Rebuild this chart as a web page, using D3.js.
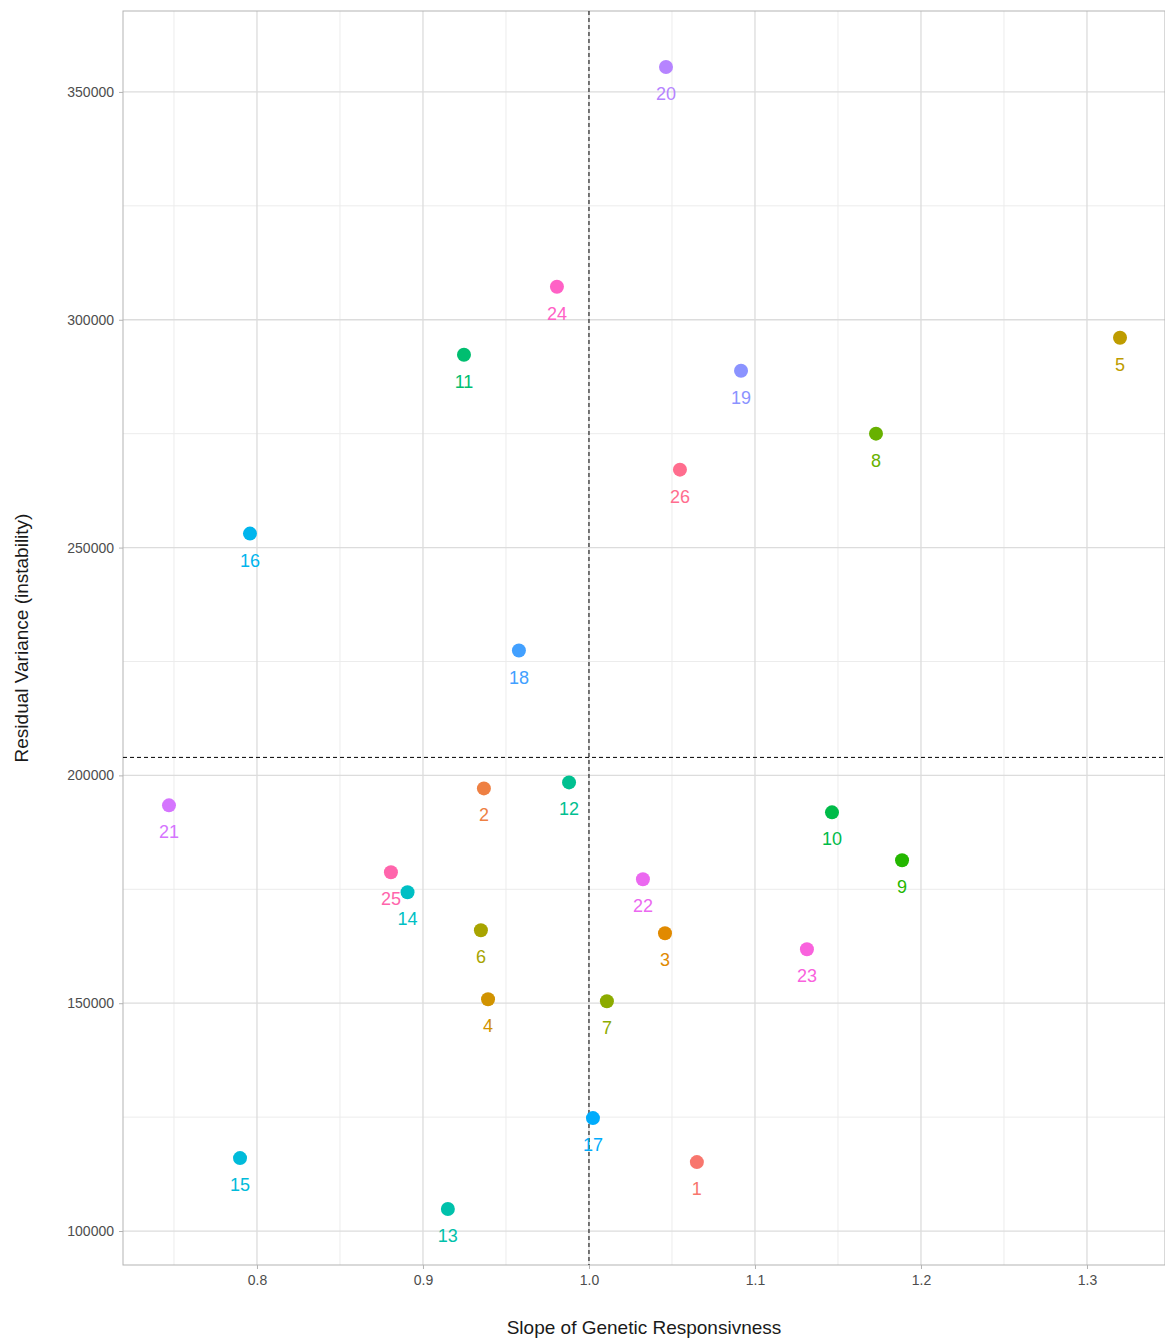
<!DOCTYPE html>
<html><head><meta charset="utf-8">
<script src="https://cdn.jsdelivr.net/npm/d3@7"></script>
<style>body{margin:0;background:#fff;font-family:Arial,"Liberation Sans",sans-serif}</style>
</head><body>
<svg id="chart" width="1165" height="1340"></svg>
<script>
// slope / residual variance per line
const ids = d3.range(1, 27);
const slope = [1.065,0.9367,1.0458,0.9392,1.3199,0.9349,1.0108,1.1729,1.1886,1.1464,0.9247,0.988,0.915,0.8907,0.7898,0.7958,1.0024,0.9578,1.0916,1.0464,0.747,1.0325,1.1313,0.9807,0.8807,1.0548];
const resid = [115130,197150,165350,150880,296050,166010,150440,275000,181360,191890,292330,198460,104820,174340,116010,253070,124780,227410,288820,355480,193420,177190,161840,307240,178730,267100];
const xTicks = [0.8, 0.9, 1.0, 1.1, 1.2, 1.3];
const yTicks = [100000, 150000, 200000, 250000, 300000, 350000];
const vRef = 1.0, hRef = 203950;

const svg = d3.select("#chart");
const L = 123, R = 1165, T = 11, B = 1265;
const x = d3.scaleLinear().domain([0.7193, 1.347]).range([L, R]);
const y = d3.scaleLinear().domain([92544, 367763]).range([B, T]);

// ggplot hue palette (polar CIE Luv)
function polarLuv(h, c, l) {
  const Xn = 95.047, Yn = 100, Zn = 108.883;
  const un = 4 * Xn / (Xn + 15 * Yn + 3 * Zn), vn = 9 * Yn / (Xn + 15 * Yn + 3 * Zn);
  const hr = h * Math.PI / 180, u = c * Math.cos(hr), v = c * Math.sin(hr);
  const Y = l > 8 ? Yn * Math.pow((l + 16) / 116, 3) : Yn * l / 903.3;
  const up = u / (13 * l) + un, vp = v / (13 * l) + vn;
  const X = Y * 9 * up / (4 * vp), Z = Y * (12 - 3 * up - 20 * vp) / (4 * vp);
  const lin = [3.240479 * X - 1.53715 * Y - 0.498535 * Z,
              -0.969256 * X + 1.875992 * Y + 0.041556 * Z,
               0.055648 * X - 0.204043 * Y + 1.057311 * Z].map(t => t / 100);
  const g = t => { t = Math.max(0, Math.min(1, t)); return 255 * (t <= 0.0031308 ? 12.92 * t : 1.055 * Math.pow(t, 1 / 2.4) - 0.055); };
  return d3.rgb(g(lin[0]), g(lin[1]), g(lin[2])).formatHex();
}
const colour = i => polarLuv(15 + i * 360 / 26, 100, 65);

const minorX = d3.range(0.75, 1.35, 0.1), minorY = d3.range(75000, 375000, 50000);
svg.append("g").selectAll("line").data(minorX).join("line")
  .attr("x1", d => x(d)).attr("x2", d => x(d)).attr("y1", T).attr("y2", B)
  .attr("stroke", "#ececec").attr("stroke-width", 1);
svg.append("g").selectAll("line").data(minorY.filter(d => y(d) > T && y(d) < B)).join("line")
  .attr("y1", d => y(d)).attr("y2", d => y(d)).attr("x1", L).attr("x2", R)
  .attr("stroke", "#ececec").attr("stroke-width", 1);
svg.append("g").selectAll("line").data(xTicks).join("line")
  .attr("x1", d => x(d)).attr("x2", d => x(d)).attr("y1", T).attr("y2", B)
  .attr("stroke", "#dcdcdc").attr("stroke-width", 1.3);
svg.append("g").selectAll("line").data(yTicks).join("line")
  .attr("y1", d => y(d)).attr("y2", d => y(d)).attr("x1", L).attr("x2", R)
  .attr("stroke", "#dcdcdc").attr("stroke-width", 1.3);

svg.append("rect").attr("x", L).attr("y", T).attr("width", R - L).attr("height", B - T)
  .attr("fill", "none").attr("stroke", "#b3b3b3");

// ticks + labels
const xa = svg.append("g").attr("transform", `translate(0,${B})`)
  .call(d3.axisBottom(x).tickValues(xTicks).tickFormat(d3.format(".1f")).tickSize(4).tickPadding(6));
const ya = svg.append("g").attr("transform", `translate(${L},0)`)
  .call(d3.axisLeft(y).tickValues(yTicks).tickFormat(d3.format("d")).tickSize(4).tickPadding(5));
[xa, ya].forEach(a => {
  a.select(".domain").remove();
  a.selectAll("line").attr("stroke", "#b3b3b3");
  a.selectAll("text").attr("fill", "#4d4d4d").style("font-size", "14px").style("font-family", "Arial,'Liberation Sans',sans-serif");
});

// reference lines
svg.append("line").attr("x1", x(vRef)).attr("x2", x(vRef)).attr("y1", T).attr("y2", B)
  .attr("stroke", "#000").attr("stroke-dasharray", "4,3");
svg.append("line").attr("x1", L).attr("x2", R).attr("y1", y(hRef)).attr("y2", y(hRef))
  .attr("stroke", "#000").attr("stroke-dasharray", "4,3");

const pts = ids.map((id, i) => ({id, s: slope[i], r: resid[i], c: colour(i)}));
svg.append("g").selectAll("circle").data(pts).join("circle")
  .attr("cx", d => x(d.s)).attr("cy", d => y(d.r)).attr("r", 7).attr("fill", d => d.c);
svg.append("g").selectAll("text").data(pts).join("text")
  .attr("x", d => x(d.s)).attr("y", d => y(d.r) + 33).attr("text-anchor", "middle")
  .attr("fill", d => d.c).style("font-size", "18px").text(d => d.id);

svg.append("text").attr("x", (L + R) / 2).attr("y", 1334).attr("text-anchor", "middle")
  .style("font-size", "19px").attr("fill", "#1a1a1a").text("Slope of Genetic Responsivness");
svg.append("text").attr("transform", `translate(28,${(T + B) / 2}) rotate(-90)`).attr("text-anchor", "middle")
  .style("font-size", "19px").attr("fill", "#1a1a1a").text("Residual Variance (instability)");
</script>
</body></html>
